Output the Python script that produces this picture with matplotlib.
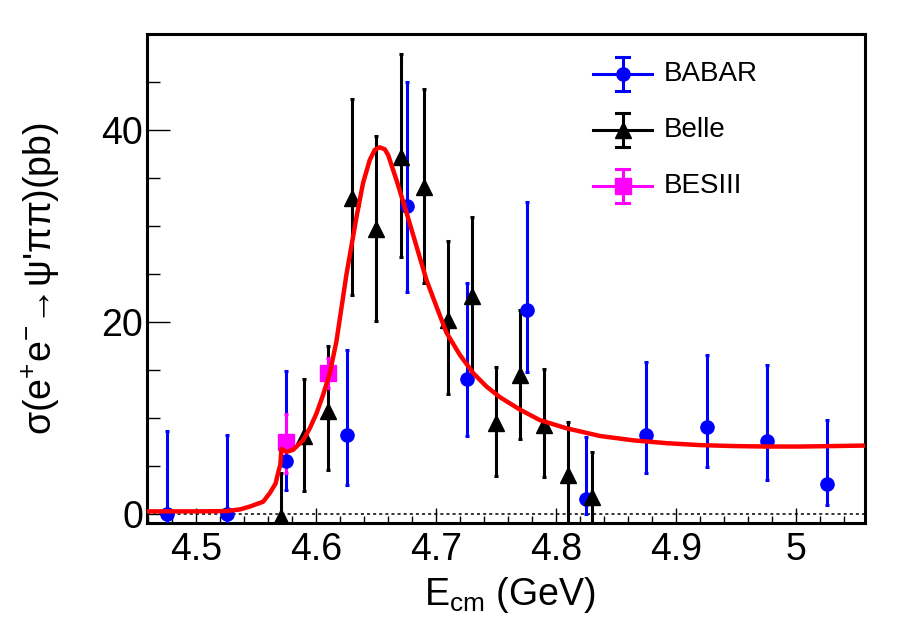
import matplotlib
matplotlib.use('Agg')
import matplotlib.pyplot as plt
from matplotlib.ticker import MultipleLocator, FormatStrFormatter

plt.rcParams['font.family'] = ['Liberation Sans', 'DejaVu Sans']
plt.rcParams['mathtext.fontset'] = 'custom'
plt.rcParams['mathtext.rm'] = 'Liberation Sans'
plt.rcParams['mathtext.it'] = 'Liberation Sans'
plt.rcParams['mathtext.sf'] = 'Liberation Sans'
plt.rcParams['mathtext.default'] = 'regular'
plt.rcParams['mathtext.fallback'] = 'stixsans'

# BABAR points (E in GeV, sigma in pb, asymmetric errors)
babar_e = [4.476, 4.526, 4.575, 4.626, 4.676, 4.726, 4.776, 4.825, 4.875, 4.926, 4.976, 5.026]
babar_y = [0.0, 0.0, 5.5, 8.3, 32.1, 14.1, 21.3, 1.6, 8.3, 9.1, 7.6, 3.1]
babar_up = [8.7, 8.2, 9.4, 8.8, 12.9, 10.0, 11.2, 6.4, 7.5, 7.5, 7.95, 6.7]
babar_dn = [8.7, 8.2, 3.0, 5.3, 9.0, 6.0, 6.5, 1.6, 4.0, 4.2, 4.0, 2.1]

# Belle points
belle_e = [4.571, 4.590, 4.610, 4.630, 4.650, 4.671, 4.690, 4.710, 4.730, 4.750, 4.770, 4.790, 4.810, 4.830]
belle_y = [-0.3, 8.1, 10.8, 32.9, 29.7, 37.2, 34.1, 20.2, 22.7, 9.5, 14.5, 9.3, 4.1, 1.8]
belle_up = [4.6, 6.0, 6.7, 10.3, 9.7, 10.7, 10.2, 8.2, 8.2, 5.8, 6.8, 5.8, 5.5, 4.7]
belle_dn = [4.6, 5.7, 6.2, 10.1, 9.6, 10.4, 10.0, 7.7, 8.2, 5.5, 6.7, 5.4, 5.5, 4.7]

# BESIII points
bes_e = [4.575, 4.610]
bes_y = [7.5, 14.75]
bes_up = [2.95, 1.5]
bes_dn = [3.2, 1.65]

# fit curve
fit_e = [4.459, 4.500, 4.5256, 4.5367, 4.545, 4.5561, 4.5617, 4.5665, 4.5686, 4.5705,
         4.5714, 4.5756, 4.581, 4.5894, 4.595, 4.6006, 4.606, 4.6117, 4.6172, 4.6256,
         4.634, 4.6394, 4.645, 4.6492, 4.6533, 4.6575, 4.6603, 4.6672, 4.6756, 4.6839,
         4.6922, 4.7006, 4.7089, 4.72, 4.7311, 4.7422, 4.7533, 4.77, 4.7867, 4.8089,
         4.8367, 4.8644, 4.8922, 4.92, 4.9478, 4.9756, 5.0033, 5.0311, 5.0575]
fit_y = [0.30, 0.30, 0.33, 0.5, 0.8, 1.3, 2.2, 3.2, 4.3, 5.2,
         6.8, 6.5, 6.7, 7.7, 8.95, 10.5, 12.4, 14.7, 18.0, 25.0,
         31.0, 34.5, 36.9, 37.95, 38.2, 38.0, 37.4, 34.8, 31.4, 27.9,
         24.4, 21.6, 18.9, 16.6, 14.7, 13.3, 12.2, 10.9, 9.8, 8.95,
         8.15, 7.7, 7.4, 7.2, 7.1, 7.05, 7.05, 7.1, 7.15]

fig = plt.figure(figsize=(9.08, 6.32), dpi=100)
ax = fig.add_axes([0.1619, 0.173, 0.7907, 0.7732])

ax.axhline(0, color='k', lw=1.1, ls=(0, (2, 2)), zorder=1)

eb = dict(ls='none', elinewidth=2.2, capsize=1.6, capthick=2.2, zorder=3)
ax.errorbar(babar_e, babar_y, yerr=[babar_dn, babar_up], fmt='o', color='#0000ff', ms=9.5, **eb)
ax.errorbar(belle_e, belle_y, yerr=[belle_dn, belle_up], fmt='^', color='k', ms=11, **eb)
ax.errorbar(bes_e, bes_y, yerr=[bes_dn, bes_up], fmt='s', color='#ff00ff', ms=11, **eb)

ax.plot(fit_e, fit_y, color='#ff0000', lw=3.2, zorder=5, solid_joinstyle='round')

ax.set_xlim(4.4594, 5.0575)
ax.set_ylim(-0.875, 50.0)

ax.xaxis.set_major_locator(MultipleLocator(0.1))
ax.xaxis.set_minor_locator(MultipleLocator(0.02))
ax.xaxis.set_major_formatter(FormatStrFormatter('%g'))
ax.yaxis.set_major_locator(MultipleLocator(20))
ax.yaxis.set_minor_locator(MultipleLocator(5))

ax.tick_params(which='both', direction='in', top=False, right=False, width=1.0, labelsize=27)
ax.tick_params(axis='x', which='major', length=10.8, pad=7)
ax.tick_params(axis='x', which='minor', length=5)
ax.tick_params(axis='y', which='major', length=16.3, pad=2.7)
ax.tick_params(axis='y', which='minor', length=9.1)
for s in ax.spines.values():
    s.set_linewidth(2.2)

ax.set_xlabel(r'E$_{cm}$ (GeV)', fontsize=27)
ax.set_ylabel("σ(e$^{+}$e$^{-}$→ψ'ππ)(pb)", fontsize=27)
ax.xaxis.set_label_coords(0.505, -0.107)
ax.yaxis.set_label_coords(-0.119, 0.5)

# legend, drawn by hand in ROOT style
entries = [('BABAR', '#0000ff', 'o', 9.5), ('Belle', 'k', '^', 11), ('BESIII', '#ff00ff', 's', 11)]
rows = [0.9175, 0.8036, 0.689]
x0, x1, xc, xt = 0.621, 0.703, 0.6625, 0.720
dy, cw = 0.0348, 0.009
tr = ax.transAxes
for (name, col, mk, ms), yr in zip(entries, rows):
    ax.plot([x0, x1], [yr, yr], color=col, lw=2.2, transform=tr, clip_on=False, zorder=6)
    ax.plot([xc, xc], [yr - dy, yr + dy], color=col, lw=2.2, transform=tr, clip_on=False, zorder=6)
    for yy in (yr - dy, yr + dy):
        ax.plot([xc - cw, xc + cw], [yy, yy], color=col, lw=2.2, transform=tr, clip_on=False, zorder=6)
    ax.plot([xc], [yr], marker=mk, ms=ms, color=col, ls='none', transform=tr, clip_on=False, zorder=7)
    ax.text(xt, yr, name, fontsize=20, va='center', ha='left', transform=tr)

fig.savefig('out.png', dpi=100)
